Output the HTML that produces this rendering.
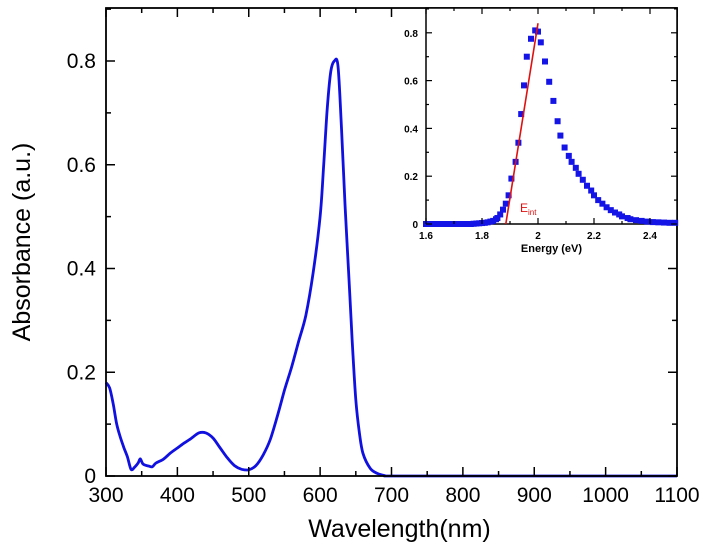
<!DOCTYPE html>
<html><head><meta charset="utf-8"><style>
html,body{margin:0;padding:0;background:#fff}
svg{display:block;font-family:"Liberation Sans",Arial,sans-serif}
</style></head><body>
<svg id="c" width="707" height="550" viewBox="0 0 707 550"></svg>
<script>
const wl=[300,305,310,315,320,325,330,335,340,345,348,352,360,365,370,380,390,400,410,420,430,440,450,460,470,480,490,500,510,520,530,540,550,560,570,580,590,600,605,610,615,620,625,630,635,640,645,650,655,660,670,680,690,700,800,900,1000,1100];
const absVals=[0.18,0.17,0.14,0.1,0.075,0.055,0.037,0.013,0.017,0.025,0.033,0.023,0.019,0.018,0.025,0.032,0.044,0.054,0.064,0.073,0.083,0.083,0.073,0.054,0.035,0.02,0.013,0.012,0.02,0.04,0.07,0.115,0.165,0.21,0.26,0.31,0.39,0.5,0.6,0.71,0.78,0.8,0.79,0.67,0.52,0.39,0.26,0.147,0.083,0.044,0.015,0.005,0.001,0,0,0,0,0];
const xTicks=[300,400,500,600,700,800,900,1000,1100];
const yTicks=[0,0.2,0.4,0.6,0.8];
const yTickLabels=["0","0.2","0.4","0.6","0.8"];
const energy=[1.6,1.61,1.62,1.63,1.64,1.65,1.66,1.67,1.68,1.69,1.7,1.71,1.72,1.73,1.74,1.75,1.76,1.77,1.78,1.79,1.8,1.81,1.82,1.83,1.84,1.85,1.855,1.865,1.875,1.885,1.895,1.905,1.92,1.93,1.94,1.95,1.96,1.975,1.99,2.0,2.01,2.025,2.04,2.055,2.07,2.08,2.095,2.11,2.12,2.135,2.145,2.16,2.175,2.19,2.2,2.215,2.23,2.245,2.26,2.275,2.29,2.3,2.32,2.33,2.35,2.37,2.39,2.41,2.43,2.45,2.47,2.49];
const insetVals=[0,0,0,0,0,0,0,0,0,0,0,0,0,0,0,0,0,0.001,0.002,0.003,0.004,0.005,0.007,0.01,0.013,0.02,0.025,0.04,0.06,0.085,0.12,0.19,0.26,0.34,0.46,0.58,0.7,0.775,0.81,0.805,0.76,0.68,0.595,0.515,0.43,0.37,0.32,0.285,0.26,0.235,0.21,0.185,0.16,0.14,0.12,0.1,0.085,0.07,0.058,0.048,0.04,0.032,0.025,0.02,0.016,0.013,0.01,0.008,0.007,0.006,0.005,0.005];
const insetXTicks=[1.6,1.8,2.0,2.2,2.4];
const insetXLabels=["1.6","1.8","2","2.2","2.4"];
const insetYTicks=[0,0.2,0.4,0.6,0.8];
const insetYLabels=["0","0.2","0.4","0.6","0.8"];
const fitLine=[[1.885,0],[2.0,0.84]];

const NS="http://www.w3.org/2000/svg";
const svg=document.getElementById('c');
function mk(t,a,p){const e=document.createElementNS(NS,t);for(const k in a)e.setAttribute(k,a[k]);(p||svg).appendChild(e);return e;}
const L=106,R=677,T=8,B=476;
const X=v=>L+(v-300)/800*(R-L);
const Y=v=>B-v/0.8*(B-61);
// smooth curve (Catmull-Rom)
const pts=wl.map((w,i)=>[X(w),Y(absVals[i])]);
let d='M'+pts[0][0].toFixed(1)+' '+pts[0][1].toFixed(1);
for(let i=0;i<pts.length-1;i++){
  const p0=pts[Math.max(0,i-1)],p1=pts[i],p2=pts[i+1],p3=pts[Math.min(pts.length-1,i+2)];
  const c1=[p1[0]+(p2[0]-p0[0])/6,p1[1]+(p2[1]-p0[1])/6];
  const c2=[p2[0]-(p3[0]-p1[0])/6,p2[1]-(p3[1]-p1[1])/6];
  d+=' C'+c1[0].toFixed(1)+' '+c1[1].toFixed(1)+' '+c2[0].toFixed(1)+' '+c2[1].toFixed(1)+' '+p2[0].toFixed(1)+' '+p2[1].toFixed(1);
}
let cur=mk('path',{d:d,fill:'none',stroke:'#1010e0','stroke-width':2.8,'stroke-linejoin':'round'});


let fr=mk('rect',{x:L,y:T,width:R-L,height:B-T,fill:'none',stroke:'#000','stroke-width':1.8});


xTicks.forEach((t,i)=>{
  const x=X(t);
  mk('line',{x1:x,x2:x,y1:B,y2:B-9,stroke:'#000','stroke-width':1.5});
  mk('line',{x1:x,x2:x,y1:T,y2:T+9,stroke:'#000','stroke-width':1.5});
  if(i<xTicks.length-1){const xm=X(t+50);mk('line',{x1:xm,x2:xm,y1:B,y2:B-5,stroke:'#000','stroke-width':1.5});mk('line',{x1:xm,x2:xm,y1:T,y2:T+5,stroke:'#000','stroke-width':1.5});}
  const lb=mk('text',{x:x,y:B+26,'text-anchor':'middle','font-size':21});
  lb.textContent=t;
  
  
});
yTicks.forEach((t,i)=>{
  const y=Y(t);
  mk('line',{x1:L,x2:L+9,y1:y,y2:y,stroke:'#000','stroke-width':1.5});
  mk('line',{x1:R,x2:R-9,y1:y,y2:y,stroke:'#000','stroke-width':1.5});
  const ym=Y(t+0.1);
  if(ym>T){mk('line',{x1:L,x2:L+5,y1:ym,y2:ym,stroke:'#000','stroke-width':1.5});mk('line',{x1:R,x2:R-5,y1:ym,y2:ym,stroke:'#000','stroke-width':1.5});}
  const lb=mk('text',{x:L-10,y:y+7,'text-anchor':'end','font-size':21});
  lb.textContent=yTickLabels[i];
  
  
});
let xt=mk('text',{x:(L+R)/2+8,y:537,'text-anchor':'middle','font-size':25});
xt.textContent='Wavelength(nm)';


let yt=mk('text',{x:0,y:0,'text-anchor':'middle','font-size':25,transform:'translate(30,242) rotate(-90)'});
yt.textContent='Absorbance (a.u.)';



const iL=426,iR=677,iT=8,iB=224;
const IX=v=>iL+(v-1.6)/0.2*56;
const IY=v=>iB-v/0.2*47.8;
let ig=mk('g',{});


mk('rect',{x:iL,y:iT,width:iR-iL,height:iB-iT,fill:'#fff',stroke:'#000','stroke-width':1.5},ig);
energy.forEach((e,i)=>{
  const s=mk('rect',{x:IX(e)-3,y:IY(insetVals[i])-3,width:6,height:6,fill:'#1414e6'},ig);
  
  
});
let fl=mk('line',{x1:IX(fitLine[0][0]),y1:IY(fitLine[0][1]),x2:IX(fitLine[1][0]),y2:IY(fitLine[1][1]),stroke:'#e01010','stroke-width':1.6},ig);


let el=mk('text',{x:520,y:212,fill:'#e01010','font-size':12},ig);
el.innerHTML='E<tspan font-size="8" dy="3">int</tspan>';


insetXTicks.forEach((t,i)=>{
  const x=IX(t);
  mk('line',{x1:x,x2:x,y1:iB,y2:iB-6,stroke:'#000','stroke-width':1.2},ig);
  mk('line',{x1:x,x2:x,y1:iT,y2:iT+6,stroke:'#000','stroke-width':1.2},ig);
  const xm=IX(t+0.1);
  if(xm<iR){mk('line',{x1:xm,x2:xm,y1:iB,y2:iB-3,stroke:'#000','stroke-width':1.2},ig);mk('line',{x1:xm,x2:xm,y1:iT,y2:iT+3,stroke:'#000','stroke-width':1.2},ig);}
  const lb=mk('text',{x:x,y:iB+15,'text-anchor':'middle','font-size':10,'font-weight':'bold'},ig);
  lb.textContent=insetXLabels[i];
  
  
});
insetYTicks.forEach((t,i)=>{
  const y=IY(t);
  mk('line',{x1:iL,x2:iL+6,y1:y,y2:y,stroke:'#000','stroke-width':1.2},ig);
  mk('line',{x1:iR,x2:iR-6,y1:y,y2:y,stroke:'#000','stroke-width':1.2},ig);
  const ym=IY(t+0.1);
  if(ym>iT){mk('line',{x1:iL,x2:iL+3,y1:ym,y2:ym,stroke:'#000','stroke-width':1.2},ig);mk('line',{x1:iR,x2:iR-3,y1:ym,y2:ym,stroke:'#000','stroke-width':1.2},ig);}
  const lb=mk('text',{x:iL-8,y:y+4,'text-anchor':'end','font-size':10,'font-weight':'bold'},ig);
  lb.textContent=insetYLabels[i];
  
  
});
let it=mk('text',{x:(iL+iR)/2,y:iB+28,'text-anchor':'middle','font-size':11,'font-weight':'bold'},ig);
it.textContent='Energy (eV)';


</script>
</body></html>
